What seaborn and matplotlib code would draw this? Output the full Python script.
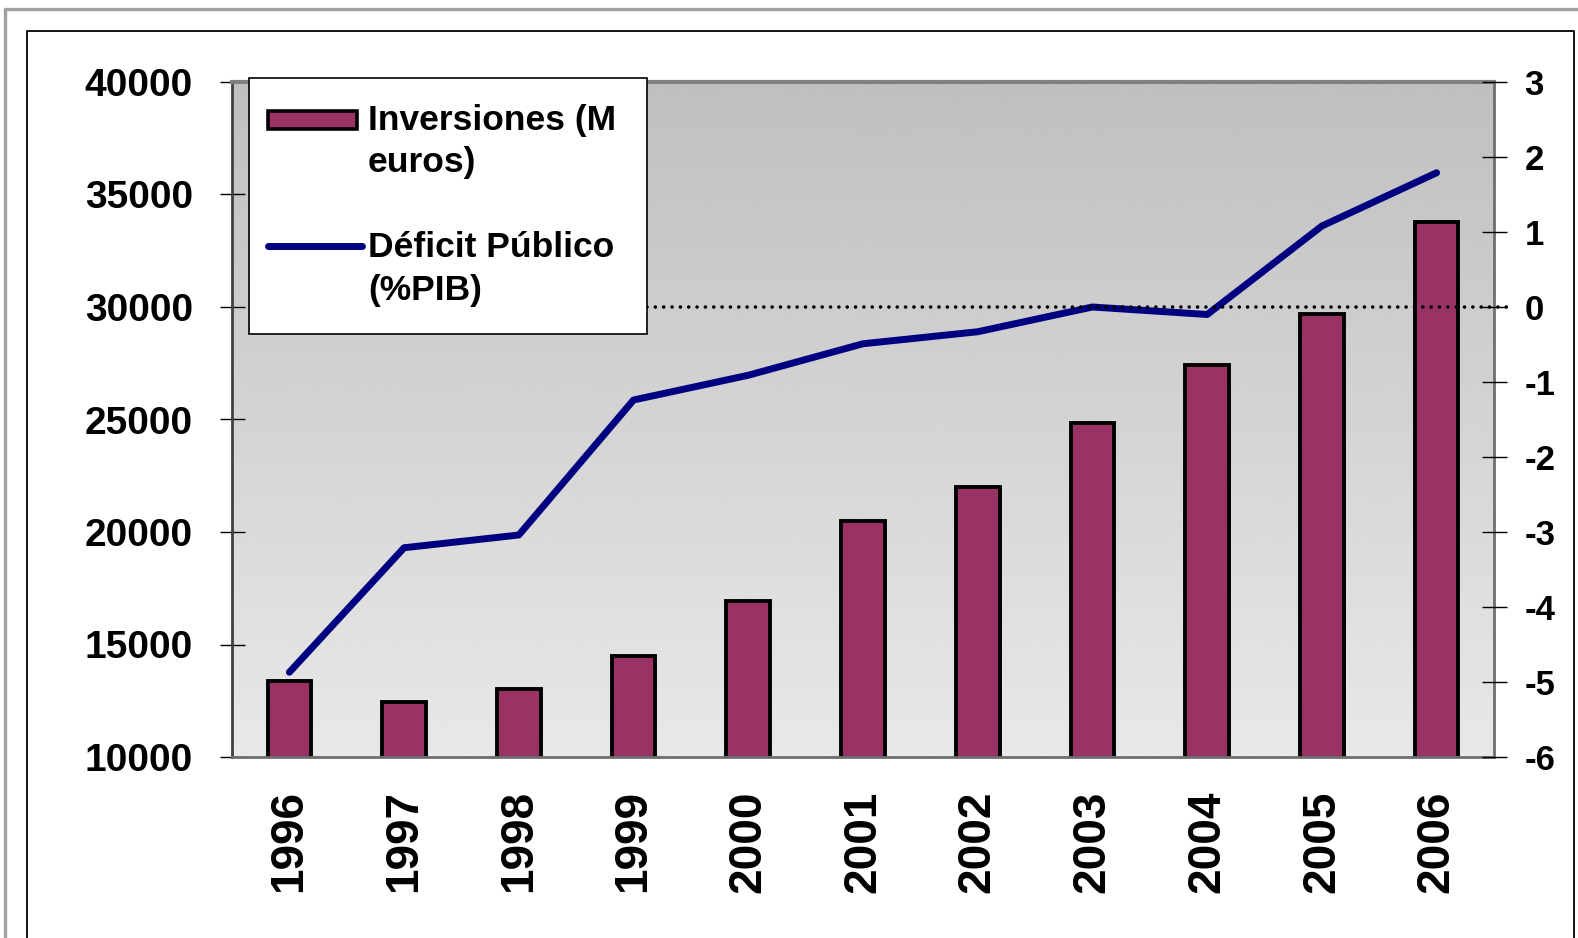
import matplotlib
matplotlib.use("Agg")
import matplotlib.pyplot as plt
import matplotlib.patches as mpatches
import matplotlib.lines as mlines
import numpy as np
import pandas as pd
import seaborn as sns

# data
years = ["1996", "1997", "1998", "1999", "2000", "2001",
         "2002", "2003", "2004", "2005", "2006"]
inversiones = [13380, 12440, 13010, 14500, 16950, 20500,
               21990, 24830, 27420, 29690, 33790]
deficit = [-4.87, -3.21, -3.04, -1.24, -0.91, -0.49,
           -0.33, 0.0, -0.10, 1.08, 1.79]
left_ticks = [10000, 15000, 20000, 25000, 30000, 35000, 40000]
right_ticks = [-6, -5, -4, -3, -2, -1, 0, 1, 2, 3]
legend_labels = ["Inversiones (M\neuros)", "Déficit Público\n(%PIB)"]

BAR_COLOR = "#993366"
LINE_COLOR = "#000080"
W, H = 1578, 938


def fx(px):
    return px / W


def fy(py):
    return 1 - py / H


sns.set_style("white")
plt.rcParams["font.family"] = ["Liberation Sans", "DejaVu Sans"]
plt.rcParams["font.weight"] = "bold"
plt.rcParams["axes.unicode_minus"] = False
plt.rcParams["text.color"] = "black"
plt.rcParams["xtick.color"] = "black"
plt.rcParams["ytick.color"] = "black"

df = pd.DataFrame({"year": years, "inv": inversiones, "def": deficit})

fig = plt.figure(figsize=(W / 100, H / 100), dpi=100)
rect = [fx(232), fy(757), fx(1494) - fx(232), fy(82) - fy(757)]

# gradient plot-area background
bg_ax = fig.add_axes(rect, zorder=0)
grad = np.linspace(0.75, 0.91, 256).reshape(-1, 1)
bg_ax.imshow(grad, cmap="gray", vmin=0, vmax=1, aspect="auto",
             extent=[0, 1, 0, 1], origin="upper")
bg_ax.axis("off")

ax = fig.add_axes(rect, zorder=1)
ax.patch.set_visible(False)
sns.barplot(data=df, x="year", y="inv", ax=ax, color=BAR_COLOR,
            saturation=1, edgecolor="black", linewidth=2.8, width=0.38)
ax.set_xlim(-0.5, len(years) - 0.5)
ax.set_ylim(left_ticks[0], left_ticks[-1])
ax.set_yticks(left_ticks)
ax.set_yticklabels([str(t) for t in left_ticks], fontsize=28, fontweight="bold")
ax.set_xlabel("")
ax.set_ylabel("")
ax.set_xticks(range(len(years)))
ax.set_xticklabels(years, rotation=90, fontsize=33, fontweight="bold")
ax.set_xticks(np.arange(-0.5, len(years)), minor=True)
ax.tick_params(axis="x", which="major", length=0, pad=24, labelcolor="black")
ax.tick_params(axis="x", which="minor", direction="inout", length=18,
               width=1, color="black")
ax.tick_params(axis="y", direction="inout", length=18, width=1,
               color="black", pad=19, left=True, labelcolor="black")
for side, sp in ax.spines.items():
    sp.set_visible(True)
    sp.set_color("#6e6e6e")
    sp.set_linewidth(2)
ax.spines["top"].set_color("#808080")
ax.spines["top"].set_linewidth(3)
ax.spines["left"].set_color("#404040")

ax2 = ax.twinx()
ax2.set_zorder(2)
ax2.patch.set_visible(False)
sns.lineplot(x=np.arange(len(years)), y=deficit, ax=ax2, color=LINE_COLOR,
             linewidth=5, solid_capstyle="round", legend=False)
# dotted zero reference, starting at the legend's right edge
ax2.axhline(0, xmin=(647 - 232) / (1494 - 232), xmax=(1513 - 232) / (1494 - 232),
            clip_on=False, color="black", linewidth=2.6,
            linestyle=(0, (0.01, 2.3)), dash_capstyle="round", zorder=5)
ax2.set_ylim(right_ticks[0], right_ticks[-1])
ax2.set_yticks(right_ticks)
ax2.set_yticklabels([str(t) for t in right_ticks], fontsize=25, fontweight="bold")
ax2.set_ylabel("")
ax2.tick_params(axis="y", direction="inout", length=18, width=1,
                color="black", pad=13, right=True, labelcolor="black")
for sp in ax2.spines.values():
    sp.set_visible(False)

# legend box drawn by hand to keep handles on the first text line
fig.patches.append(mpatches.Rectangle(
    (fx(249), fy(334)), fx(647) - fx(249), fy(78) - fy(334),
    transform=fig.transFigure, facecolor="white", edgecolor="black",
    linewidth=1.2, zorder=10))
fig.patches.append(mpatches.Rectangle(
    (fx(268), fy(129)), fx(357) - fx(268), fy(111) - fy(129),
    transform=fig.transFigure, facecolor=BAR_COLOR, edgecolor="black",
    linewidth=2.6, zorder=11))
fig.lines.append(mlines.Line2D(
    [fx(268), fx(362)], [fy(246.5), fy(246.5)], transform=fig.transFigure,
    color=LINE_COLOR, linewidth=5, solid_capstyle="round", zorder=11))
baselines = [[130, 172], [257, 300]]
for label, rows in zip(legend_labels, baselines):
    for part, base in zip(label.split("\n"), rows):
        fig.text(fx(368), fy(base), part, fontsize=25.5, fontweight="bold",
                 va="baseline", ha="left", zorder=12, color="black")

# outer frames of the chart object
fig.lines.append(mlines.Line2D([fx(5), fx(5), fx(1590)], [fy(950), fy(9), fy(9)],
                               transform=fig.transFigure, color="#a0a0a0",
                               linewidth=2.4, zorder=0))
fig.lines.append(mlines.Line2D([fx(27), fx(27), fx(1574), fx(1574)],
                               [fy(950), fy(31), fy(31), fy(950)],
                               transform=fig.transFigure, color="black",
                               linewidth=1.3, zorder=0))

fig.savefig("out.png", dpi=100)
